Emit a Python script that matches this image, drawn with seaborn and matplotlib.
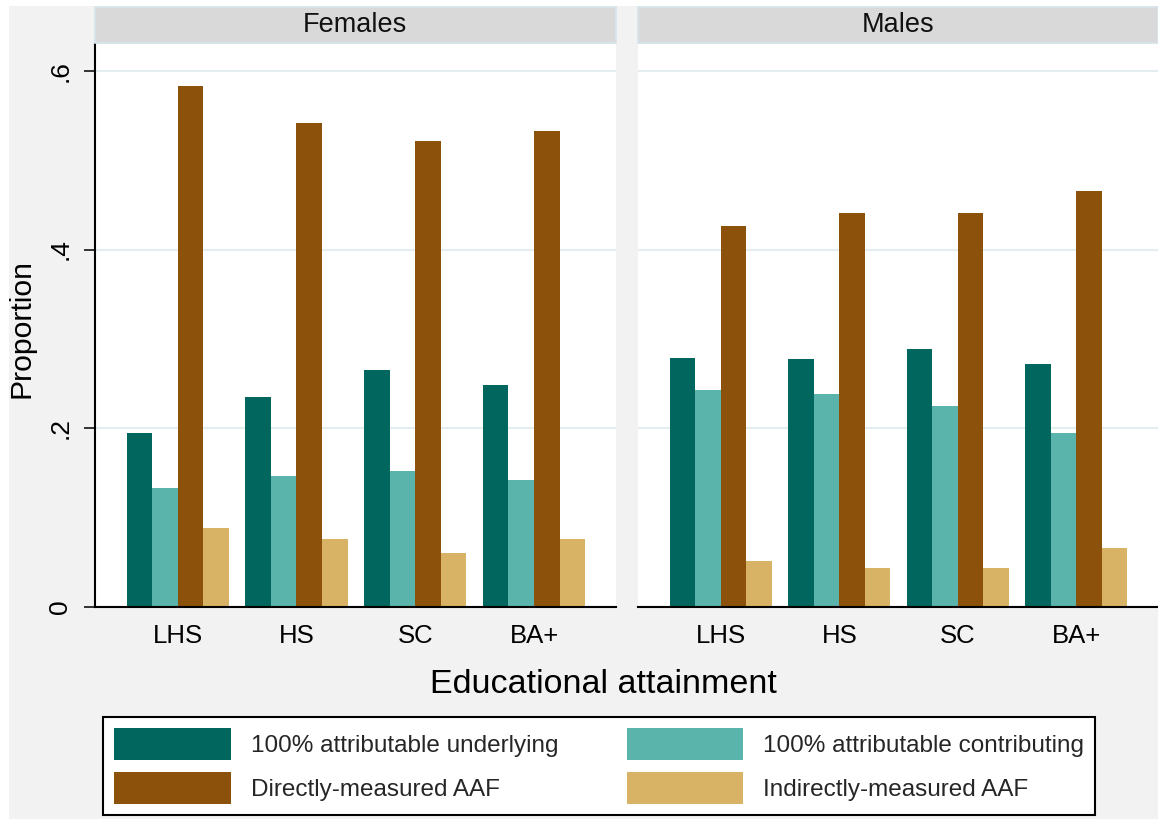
import numpy as np
import pandas as pd
import matplotlib
matplotlib.use("Agg")
import matplotlib.pyplot as plt
import seaborn as sns
from matplotlib.patches import Rectangle, Patch

# ---------------- data ----------------
categories = ["LHS", "HS", "SC", "BA+"]
measures = ["100% attributable underlying", "100% attributable contributing",
            "Directly-measured AAF", "Indirectly-measured AAF"]
panels = ["Females", "Males"]

female_underlying = [0.195, 0.235, 0.265, 0.248]
female_contributing = [0.133, 0.147, 0.152, 0.142]
female_direct = [0.583, 0.542, 0.522, 0.533]
female_indirect = [0.088, 0.076, 0.060, 0.076]

male_underlying = [0.279, 0.277, 0.289, 0.272]
male_contributing = [0.243, 0.238, 0.225, 0.195]
male_direct = [0.426, 0.441, 0.441, 0.465]
male_indirect = [0.052, 0.044, 0.044, 0.066]

ytick_vals = [0, 0.2, 0.4, 0.6]
ytick_labels = ["0", ".2", ".4", ".6"]

colors = ["#01665e", "#5ab4ac", "#8c510a", "#d8b365"]

def long_frame(series_list):
    rows = []
    for m, vals in zip(measures, series_list):
        for c, v in zip(categories, vals):
            rows.append({"educ": c, "measure": m, "value": v})
    return pd.DataFrame(rows)

data = {
    "Females": long_frame([female_underlying, female_contributing, female_direct, female_indirect]),
    "Males": long_frame([male_underlying, male_contributing, male_direct, male_indirect]),
}

# ---------------- style ----------------
sns.set_style("white")
plt.rcParams["font.family"] = ["Liberation Sans", "DejaVu Sans"]

W, H = 1158, 819
fig = plt.figure(figsize=(W / 100, H / 100), dpi=100)
fig.patch.set_facecolor("white")
fig.add_artist(Rectangle((9 / W, 0), 1 - 9 / W, 1 - 6 / H, transform=fig.transFigure,
                         facecolor="#f2f2f2", edgecolor="none", zorder=-5))

bottom_px, top_px = 607, 44
ax_h = (bottom_px - top_px) / H
ax_f = fig.add_axes([94.5 / W, (H - bottom_px) / H, (616 - 94.5) / W, ax_h])
ax_m = fig.add_axes([638 / W, (H - bottom_px) / H, (W - 638) / W, ax_h])

for ax, name in zip([ax_f, ax_m], panels):
    ax.set_facecolor("white")
    sns.barplot(data=data[name], x="educ", y="value", hue="measure",
                order=categories, hue_order=measures, palette=colors,
                saturation=1, width=0.86, gap=0, dodge=True, legend=False,
                edgecolor="none", linewidth=0, ax=ax)
    ax.set_xlim(-0.70, 3.69)
    ax.set_ylim(0, 0.63)
    ax.set_yticks(ytick_vals)
    ax.set_yticklabels(ytick_labels)
    ax.set_axisbelow(True)
    ax.yaxis.grid(True, color="#e4eef0", linewidth=1.5)
    ax.xaxis.grid(False)
    ax.set_xlabel("")
    ax.set_ylabel("")
    for s in ["top", "right"]:
        ax.spines[s].set_visible(False)
    ax.spines["bottom"].set_color("black")
    ax.spines["bottom"].set_linewidth(1.5)
    ax.tick_params(axis="x", length=0, labelsize=18.5, pad=12, colors="black")

    # strip header
    ax_px_h = bottom_px - top_px
    strip_top = (bottom_px - 7) / ax_px_h
    ax.add_patch(Rectangle((0, 1.002), 1, strip_top - 1.002, transform=ax.transAxes,
                           clip_on=False, facecolor="#d9d9d9", edgecolor="#d6e4ea",
                           linewidth=1.2, zorder=3))
    ax.text(0.5, (bottom_px - 25.5) / ax_px_h, name, transform=ax.transAxes,
            ha="center", va="center", fontsize=19.5, color="#111111", zorder=4)

ax_f.spines["left"].set_color("black")
ax_f.spines["left"].set_linewidth(1.5)
ax_f.tick_params(axis="y", direction="out", length=8, width=1.1, colors="black",
                 labelsize=19, labelrotation=90, pad=8, left=True)
for t in ax_f.get_yticklabels():
    t.set_va("center")

ax_m.spines["left"].set_visible(False)
ax_m.tick_params(axis="y", left=False, labelleft=False)

fig.text(21 / W, 1 - 328 / H, "Proportion", rotation=90, ha="center", va="center",
         fontsize=21.7, color="black")
fig.text(603 / W, 1 - 692.7 / H, "Educational attainment", ha="center", va="baseline",
         fontsize=24.5, color="black")

# legend: row-wise order (matplotlib fills column by column)
legend_order = [0, 2, 1, 3]
handles = [Patch(facecolor=colors[i], edgecolor="none") for i in legend_order]
labels = [measures[i] for i in legend_order]
leg = fig.legend(handles, labels, loc="upper left",
                 bbox_to_anchor=(103.3 / W, 1 - 816 / H, (1095 - 103.3) / W, (816 - 716.7) / H),
                 mode="expand", ncol=2, fontsize=17.5, handlelength=4.8, handleheight=1.67,
                 handletextpad=0.81, labelspacing=0.48, borderpad=0.45, borderaxespad=0,
                 frameon=True, fancybox=False, framealpha=1, facecolor="white",
                 edgecolor="black")
leg.get_frame().set_linewidth(1.5)

fig.savefig("out.png", dpi=100, facecolor=fig.get_facecolor())
